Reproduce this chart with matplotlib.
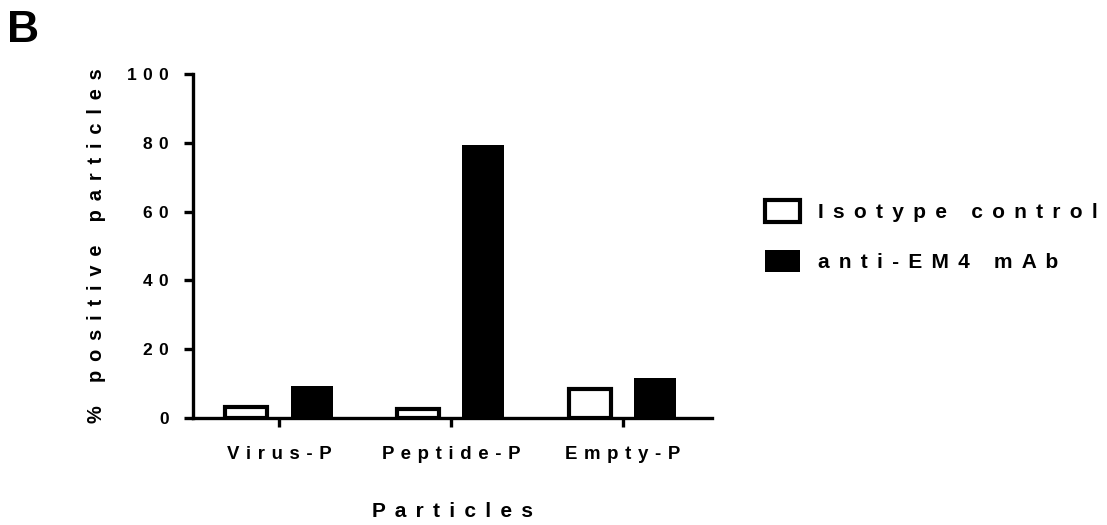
import matplotlib
matplotlib.use('Agg')
import matplotlib.pyplot as plt
import numpy as np

plt.rcParams['font.family'] = ['Liberation Sans', 'DejaVu Sans']
plt.rcParams['font.weight'] = 'bold'
plt.rcParams['axes.labelweight'] = 'bold'

categories = ['Virus-P', 'Peptide-P', 'Empty-P']
isotype = [3.2, 2.7, 8.3]
anti_em4 = [9.3, 79.5, 11.6]
yticks = [0, 20, 40, 60, 80, 100]

WIDE = ' \u2006'   # space + six-per-em space
NARROW = ' \u200a'  # space + hair space


def spaced(s, sep=WIDE):
    # Prism-style wide letter spacing
    return sep.join(s)


fig = plt.figure(figsize=(11.07, 5.25), dpi=100)
ax = fig.add_axes([193 / 1107, 107 / 525, 519 / 1107, 344 / 525])

x = np.arange(len(categories))
w = 0.245
off = 0.19
ax.bar(x - off, isotype, w, facecolor='white', edgecolor='black',
       linewidth=3, label=spaced('Isotype control'))
ax.bar(x + off, anti_em4, w, facecolor='black', edgecolor='black',
       linewidth=0, label=spaced('anti-EM4 mAb'))

ax.set_xlim(-0.5, 2.52)
ax.set_ylim(0, 100)
ax.set_yticks(yticks)
ax.set_yticklabels([spaced(str(v), NARROW) for v in yticks])
ax.set_xticks(x)
ax.set_xticklabels([spaced(c, NARROW) for c in categories])

for side in ['top', 'right']:
    ax.spines[side].set_visible(False)
for side in ['left', 'bottom']:
    ax.spines[side].set_linewidth(2.4)
ax.tick_params(axis='y', length=6.5, width=2.4, pad=11, labelsize=12.5)
ax.tick_params(axis='x', length=6.5, width=2.4, pad=14, labelsize=13.4)

ax.set_ylabel(spaced('% positive particles'), fontsize=14.4, labelpad=15)
ax.set_xlabel(spaced('Particles'), fontsize=15, labelpad=28)

ax.legend(loc='center left', bbox_to_anchor=(765 / 1107, 1 - 236 / 525),
          bbox_transform=fig.transFigure, frameon=False, fontsize=15,
          handlelength=1.7, handleheight=1.3, labelspacing=1.3,
          handletextpad=0.85, borderpad=0, borderaxespad=0)

fig.text(7 / 1107, 1 - 10 / 525, 'B', fontsize=32, fontweight='bold',
         va='top', ha='left')

fig.savefig('out.png', dpi=100)
